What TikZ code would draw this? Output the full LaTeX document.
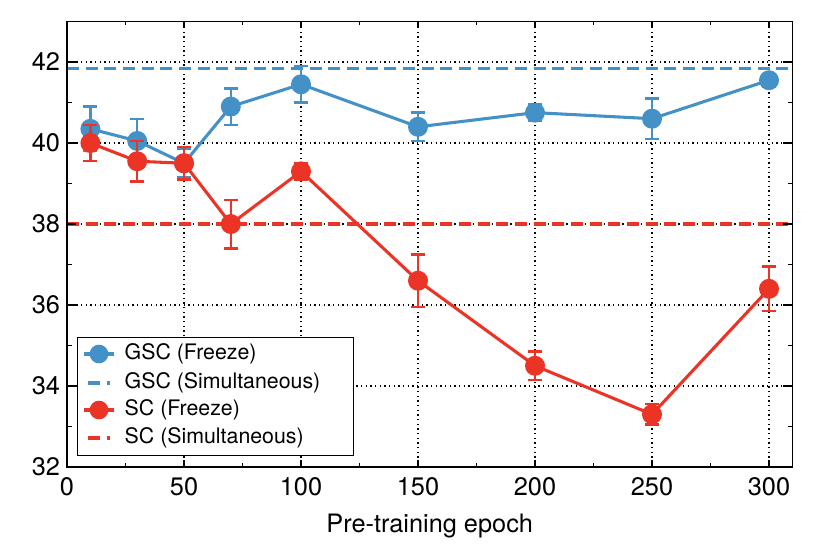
\documentclass[tikz,border=0pt]{standalone}
\usepackage{fontspec}
\setmainfont{TeX Gyre Heros}
\definecolor{gblue}{RGB}{68,145,200}
\definecolor{sred}{RGB}{236,52,38}
\pgfdeclarelayer{gridl}
\pgfdeclarelayer{linel}
\pgfsetlayers{gridl,linel,main}
\begin{document}
\begin{tikzpicture}[x=0.75pt,y=-0.75pt,
  mk/.style={circle,inner sep=0pt,minimum size=15pt},
  ln/.style={line width=2.3pt},
  dsh/.style={line width=2.3pt,dash pattern=on 9pt off 5pt},
  eb/.style={line width=1.8pt},
  grd/.style={black,line width=0.9pt,dash pattern=on 0.9pt off 2.6pt},
  lab/.style={font=\fontsize{19}{19}\selectfont}]
\useasboundingbox (0,0) rectangle (830,554);
\begin{scope}[shift={(67,1763)},xscale=2.34,yscale=-40.5]
 \begin{pgfonlayer}{gridl}
 \foreach \xx in {50,100,...,300} \draw[grd] (\xx,32)--(\xx,43);
 \foreach \yy in {34,36,...,42} \draw[grd] (0,\yy)--(310,\yy);
 \draw[gblue,dsh] (0,41.85)--(310,41.85);
 \draw[sred,dsh] (0,38)--(310,38);
 \end{pgfonlayer}
 \foreach \n/\e/\v/\s in {1/10/40.35/0.55,2/30/40.05/0.55,3/50/39.5/0.35,4/70/40.9/0.45,5/100/41.45/0.45,6/150/40.4/0.35,7/200/40.75/0.2,8/250/40.6/0.5,9/300/41.55/0.15}{
   \draw[gblue,eb] (\e-3,\v-\s)--(\e+3,\v-\s) (\e,\v-\s)--(\e,\v+\s) (\e-3,\v+\s)--(\e+3,\v+\s);
   \node[mk,fill=gblue] (g\n) at (\e,\v) {};}
 \foreach \n/\e/\v/\s in {1/10/40.0/0.45,2/30/39.55/0.5,3/50/39.5/0.4,4/70/38.0/0.6,5/100/39.3/0.2,6/150/36.6/0.65,7/200/34.5/0.35,8/250/33.3/0.25,9/300/36.4/0.55}{
   \draw[sred,eb] (\e-3,\v-\s)--(\e+3,\v-\s) (\e,\v-\s)--(\e,\v+\s) (\e-3,\v+\s)--(\e+3,\v+\s);
   \node[mk,fill=sred] (r\n) at (\e,\v) {};}
 \draw[line width=1pt] (0,32) rectangle (310,43);
 \foreach \xx in {0,50,...,300}{\draw[line width=0.8pt] (\xx,32)--++(0,0.17) (\xx,43)--++(0,-0.17);
   \node[lab,below] at (\xx,31.85) {\xx};}
 \foreach \xx in {25,75,...,275}{\draw[line width=0.6pt] (\xx,32)--++(0,0.09) (\xx,43)--++(0,-0.09);}
 \foreach \yy in {32,34,...,42}{\draw[line width=0.8pt] (0,\yy)--++(4,0) (310,\yy)--++(-4,0);
   \node[lab,left] at (-1,\yy) {\yy};}
 \foreach \yy in {33,35,...,41}{\draw[line width=0.6pt] (0,\yy)--++(2,0) (310,\yy)--++(-2,0);}
 \node[lab] at (155,30.55) {Pre-training epoch};
\end{scope}
\begin{pgfonlayer}{linel}
 \foreach \a/\b in {1/2,2/3,3/4,4/5,5/6,6/7,7/8,8/9} \draw[gblue,ln] (g\a.center)--(g\b.center);
 \foreach \a/\b in {1/2,2/3,3/4,4/5,5/6,6/7,7/8,8/9} \draw[sred,ln] (r\a.center)--(r\b.center);
\end{pgfonlayer}
\node[draw,fill=white,line width=0.8pt,minimum width=207pt,minimum height=88.5pt,anchor=north west] (leg) at (77,337) {};
\begin{scope}[font=\fontsize{16}{16}\selectfont]
 \draw[gblue,ln] (84,354)--(114,354); \node[mk,fill=gblue,minimum size=14pt] (l1) at (99,354) {};
 \node[anchor=west] at (120,354) {GSC (Freeze)};
 \draw[gblue,dsh] (88,383)--(110,383);
 \node[anchor=west] at (120,383) {GSC (Simultaneous)};
 \draw[sred,ln] (84,410)--(114,410); \node[mk,fill=sred,minimum size=14pt] (l3) at (99,410) {};
 \node[anchor=west] at (120,410) {SC (Freeze)};
 \draw[sred,dsh] (88,438)--(110,438);
 \node[anchor=west] at (120,438) {SC (Simultaneous)};
\end{scope}
\end{tikzpicture}
\end{document}
